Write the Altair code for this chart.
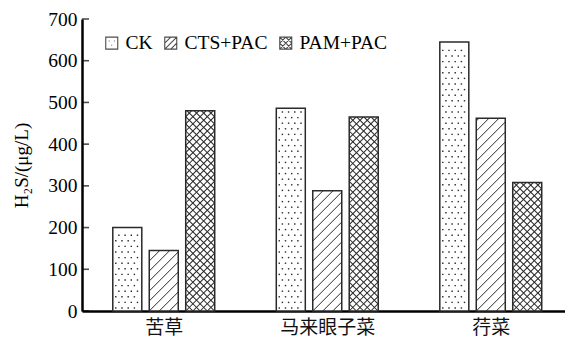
import json
import math

import altair as alt
import pandas as pd

# ---- data -------------------------------------------------------------
categories = ["苦草", "马来眼子菜", "荇菜"]
series = ["CK", "CTS+PAC", "PAM+PAC"]
ck_values = [200, 486, 645]
cts_values = [145, 288, 462]
pam_values = [480, 465, 308]
y_ticks = [0, 100, 200, 300, 400, 500, 600, 700]
y_title = "H₂S/(μg/L)"

# ---- geometry of the plot area --------------------------------------------
W, H = 483, 292
X_DOMAIN = [-0.5, 2.454]
Y_DOMAIN = [0, 700]
PX_X = W / (X_DOMAIN[1] - X_DOMAIN[0])   # pixels per x unit
PX_Y = H / (Y_DOMAIN[1] - Y_DOMAIN[0])   # pixels per y unit
BAR_STEP = 0.223                          # distance between bar centres in a group
BAR_HALF = 0.0887                         # half bar width (x units)

SERIF = "Liberation Serif"
CJK = "Noto Sans CJK SC"
INK = "#2a2a2a"

series_values = dict(zip(series, [ck_values, cts_values, pam_values]))

rows = []
for ci, cat in enumerate(categories):
    for si, s in enumerate(series):
        c = ci + (si - 1) * BAR_STEP
        rows.append(dict(category=cat, series=s, value=series_values[s][ci],
                         x0=c - BAR_HALF, x1=c + BAR_HALF))
bars = pd.DataFrame(rows)


# ---- fill patterns, built from each bar's extent ----------------------------
def hatch_segments(x0, x1, top, slopes, spacing):
    """45-degree hatch lines clipped to the bar rectangle (pixel space)."""
    w = (x1 - x0) * PX_X
    h = top * PX_Y
    segs = []
    for s in slopes:
        if s > 0:
            lo, hi = -w, h
        else:
            lo, hi = 0.0, w + h
        k = math.floor(lo / spacing)
        while k * spacing <= hi:
            c = k * spacing
            if s > 0:
                xa, xb = max(0.0, -c), min(w, h - c)
            else:
                xa, xb = max(0.0, c - h), min(w, c)
            if xb - xa > 0.3:
                ya, yb = s * xa + c, s * xb + c
                segs.append(dict(xa=x0 + xa / PX_X, xb=x0 + xb / PX_X,
                                 ya=ya / PX_Y, yb=yb / PX_Y))
            k += 1
    return segs


def dot_grid(x0, x1, top, dx=6.2, dy=5.6, margin=3.0):
    w = (x1 - x0) * PX_X
    h = top * PX_Y
    pts = []
    j = 0
    yp = margin
    while yp < h - margin:
        xp = margin + (dx / 2 if j % 2 else 0.0)
        while xp < w - margin + 0.01:
            pts.append(dict(xd=x0 + xp / PX_X, yd=yp / PX_Y))
            xp += dx
        yp += dy
        j += 1
    return pts


dots, diag, cross = [], [], []
for r in bars.itertuples():
    if r.series == "CK":
        dots += dot_grid(r.x0, r.x1, r.value)
    elif r.series == "CTS+PAC":
        diag += hatch_segments(r.x0, r.x1, r.value, [1], 10.0)
    else:
        cross += hatch_segments(r.x0, r.x1, r.value, [1, -1], 7.2)
dots = pd.DataFrame(dots)
diag = pd.DataFrame(diag)
cross = pd.DataFrame(cross)

# ---- shared scales / axes ------------------------------------------------------
x_scale = alt.Scale(domain=X_DOMAIN, nice=False, zero=False)
y_scale = alt.Scale(domain=Y_DOMAIN, nice=False)

x_axis = alt.Axis(
    values=[0, 1, 2], title=None, grid=False, ticks=False,
    labelExpr=f"{json.dumps(categories, ensure_ascii=False)}[datum.value]",
    labelFont=CJK, labelFontSize=19, labelColor="#111", labelPadding=7,
    domainColor="black", domainWidth=2.5,
)
y_axis = alt.Axis(
    values=y_ticks, title=y_title, grid=False, ticks=False,
    labelFont=SERIF, labelFontSize=19.5, labelColor="black", labelPadding=5,
    titleFont=SERIF, titleFontSize=19, titleFontWeight="normal",
    titleColor="black", titlePadding=16,
    domainColor="black", domainWidth=2.5,
)


def X(field):
    return alt.X(f"{field}:Q", scale=x_scale, axis=x_axis)


def Y(field):
    return alt.Y(f"{field}:Q", scale=y_scale, axis=y_axis)


base = alt.Chart(bars)

bar_fill = base.mark_rect(fill="white", stroke=None).encode(
    x=X("x0"), x2="x1", y=Y("value"), y2=alt.datum(0)
)

dot_layer = alt.Chart(dots).mark_square(size=2, color=INK, opacity=1).encode(
    x=X("xd"), y=Y("yd")
)

diag_layer = alt.Chart(diag).mark_rule(color=INK, strokeWidth=1.0).encode(
    x=X("xa"), x2="xb", y=Y("ya"), y2="yb"
)

cross_layer = alt.Chart(cross).mark_rule(color=INK, strokeWidth=1.05).encode(
    x=X("xa"), x2="xb", y=Y("ya"), y2="yb"
)

bar_outline = base.mark_rect(fillOpacity=0, stroke=INK, strokeWidth=1.5).encode(
    x=X("x0"), x2="x1", y=Y("value"), y2=alt.datum(0)
)

# inward ticks on the value axis
tick_layer = alt.Chart(pd.DataFrame({"tick": y_ticks})).mark_tick(
    orient="horizontal", size=7, thickness=1.6, color="black"
).encode(y=Y("tick"), x=alt.value(3.5))

# legend symbols: outlined squares carrying the same fill patterns
legend_paths = [
    "M-1,-1H1V1H-1Z M-0.5,-0.35h0.14 M0.36,-0.35h0.14 M-0.07,0.35h0.14",
    "M-1,-1H1V1H-1Z M-1,1L1,-1 M-1,0L0,-1 M0,1L1,0",
    "M-1,-1H1V1H-1Z M-1,1L1,-1 M-1,-1L1,1 M-1,0L0,-1 M0,1L1,0 M-1,0L0,1 M0,-1L1,0",
]
legend_layer = base.mark_point(filled=False, color="black", strokeWidth=1.1).encode(
    x=X("x0"), y=Y("value"),
    shape=alt.Shape(
        "series:N",
        scale=alt.Scale(domain=series, range=legend_paths),
        legend=alt.Legend(
            title=None, orient="none", legendX=20, legendY=14, padding=0,
            direction="horizontal", symbolSize=144, symbolStrokeWidth=1.1,
            labelFont=SERIF, labelFontSize=19.5, labelColor="black",
            labelOffset=4, columnPadding=8,
        ),
    ),
).transform_filter("false")

chart = alt.layer(
    bar_fill, dot_layer, diag_layer, cross_layer, bar_outline, tick_layer, legend_layer
).properties(
    width=W, height=H,
    padding={"left": 82, "top": 19, "right": 0, "bottom": 29},
    autosize=alt.AutoSizeParams(type="none"),
    background="white",
).configure_view(stroke=None)

chart.save("out.html", embed_options={"renderer": "svg", "actions": False})
